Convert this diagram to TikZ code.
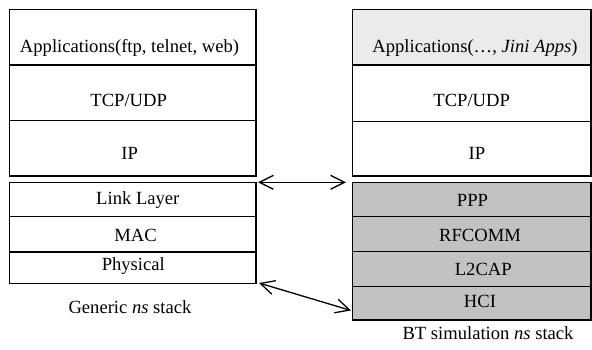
\documentclass[tikz,border=0pt]{standalone}
\usepackage{fontspec}
\setmainfont{Liberation Serif}
\usetikzlibrary{arrows.meta}
\begin{document}
\begin{tikzpicture}[x=1pt,y=1pt,
  layer/.style={draw=black, line width=1.4pt, rectangle, inner sep=0pt},
  lbl/.style={font=\fontsize{18.6}{21}\selectfont, inner sep=0pt},
  dark/.style={fill=black!24},
  light/.style={fill=black!8},
  conn/.style={line width=1.3pt, {Straight Barb[length=14pt,width=14pt]}-{Straight Barb[length=14pt,width=14pt]}}]
\useasboundingbox (0,0) rectangle (592,349);
% left stack (image y -> 349-y)
\node[layer, minimum width=246.5pt, minimum height=55.7pt] (lapp) at (132.75,311.85) {};
\node[layer, minimum width=246.5pt, minimum height=55.7pt] (ltcp) at (132.75,256.15) {};
\node[layer, minimum width=246.5pt, minimum height=55.3pt] (lip) at (132.75,200.65) {};
\node[layer, minimum width=246.5pt, minimum height=34.4pt] (llink) at (132.75,149.5) {};
\node[layer, minimum width=246.5pt, minimum height=35.3pt] (lmac) at (132.75,114.65) {};
\node[layer, minimum width=246.5pt, minimum height=31.3pt] (lphy) at (132.75,81.35) {};
\node[lbl] (tlapp) at (129.5,301) {Applications(ftp, telnet, web)};
\node[lbl] (tltcp) at (128.7,249) {TCP/UDP};
\node[lbl] (tlip) at (129.7,196) {IP};
\node[lbl] (tllink) at (137.8,149) {Link Layer};
\node[lbl] (tlmac) at (135.5,114) {MAC};
\node[lbl] (tlphy) at (133.3,83) {Physical};
\node[lbl] (lcap) at (130,42.3) {Generic \textit{ns} stack};
% right stack
\node[layer, light, minimum width=238.7pt, minimum height=55.7pt] (rapp) at (471.65,311.85) {};
\node[layer, minimum width=238.7pt, minimum height=56.7pt] (rtcp) at (471.65,255.65) {};
\node[layer, minimum width=238.7pt, minimum height=54.3pt] (rip) at (471.65,200.15) {};
\node[layer, dark, minimum width=238.7pt, minimum height=34.4pt] (rppp) at (471.65,149.5) {};
\node[layer, dark, minimum width=238.7pt, minimum height=34.6pt] (rrf) at (471.65,115) {};
\node[layer, dark, minimum width=238.7pt, minimum height=35.4pt] (rl2) at (471.65,80) {};
\node[layer, dark, minimum width=238.7pt, minimum height=33.3pt] (rhci) at (471.65,45.65) {};
\node[lbl] (trapp) at (475,301) {Applications(…, \textit{Jini Apps})};
\node[lbl] (trtcp) at (471.7,249) {TCP/UDP};
\node[lbl] (trip) at (477,196) {IP};
\node[lbl] (trppp) at (472.5,149) {PPP};
\node[lbl] (trrf) at (480,114) {RFCOMM};
\node[lbl] (trl2) at (483.3,80) {L2CAP};
\node[lbl] (trhci) at (480,47.3) {HCI};
\node[lbl] (rcap) at (488,16) {BT simulation \textit{ns} stack};
% connectors
\coordinate (a1) at (258,166.7);
\coordinate (a2) at (346,166.7);
\coordinate (b1) at (259,66);
\coordinate (b2) at (351,38.5);
\draw[conn] (a1) -- (a2);
\draw[conn] (b1) -- (b2);
\end{tikzpicture}
\end{document}
